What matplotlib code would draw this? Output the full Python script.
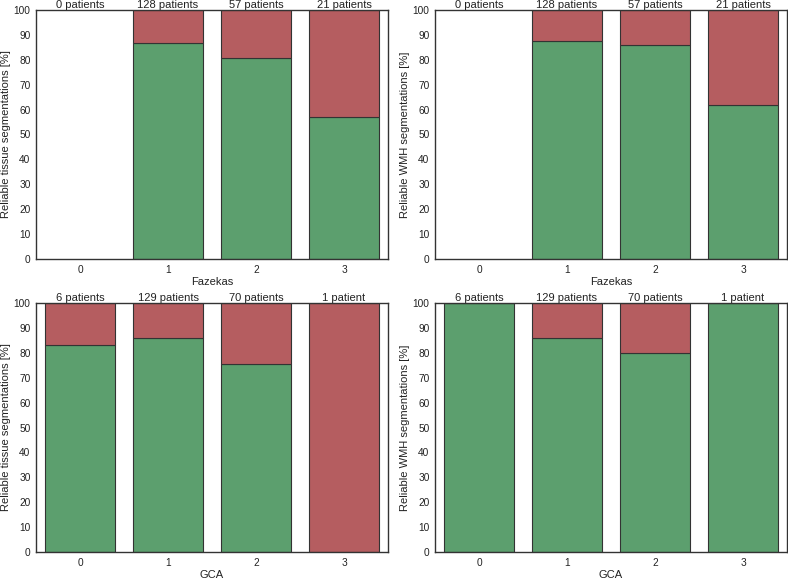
import numpy as np
import matplotlib
matplotlib.use("Agg")
import matplotlib.pyplot as plt

plt.rcParams['font.family'] = ['Liberation Sans', 'DejaVu Sans']

grades = [0, 1, 2, 3]

# Fazekas
faz_patients = [0, 128, 57, 21]
faz_tissue = [np.nan, 86.7, 80.7, 57.1]
faz_wmh = [np.nan, 87.5, 86.0, 61.9]

# GCA
gca_patients = [6, 129, 70, 1]
gca_tissue = [83.3, 86.0, 75.7, 0.0]
gca_wmh = [100.0, 86.0, 80.0, 100.0]

green = '#5c9f6e'
red = '#b55d60'


def panel(ax, reliable, patients, xlabel, ylabel):
    x = np.array(grades)
    good = np.array(reliable, dtype=float)
    ok = ~np.isnan(good)
    ax.bar(x[ok], good[ok], width=0.8, color=green, edgecolor='#333333', linewidth=0.8)
    ax.bar(x[ok], 100 - good[ok], bottom=good[ok], width=0.8, color=red,
           edgecolor='#333333', linewidth=0.8)
    for xi, n in zip(x, patients):
        txt = '{} patient'.format(n) if n == 1 else '{} patients'.format(n)
        ax.text(xi, 100.2, txt, ha='center', va='bottom', fontsize=8, color='#222222')
    ax.set_xlim(-0.5, 3.5)
    ax.set_ylim(0, 100)
    ax.set_xticks(grades)
    ax.set_yticks(range(0, 101, 10))
    ax.tick_params(length=0, labelsize=7.3, colors='#222222', pad=4)
    ax.set_xlabel(xlabel, fontsize=8, color='#222222', labelpad=2)
    ax.set_ylabel(ylabel, fontsize=8, color='#222222', labelpad=2)
    for s in ax.spines.values():
        s.set_color('#333333')
        s.set_linewidth(1.0)


fig = plt.figure(figsize=(7.88, 5.78), dpi=100)
W, H = 788.0, 578.0


def axes_px(left, top, right, bottom):
    return fig.add_axes([left / W, 1 - bottom / H, (right - left) / W, (bottom - top) / H])


ax_tl = axes_px(36, 10, 388, 259)
ax_tr = axes_px(435, 10, 787, 259)
ax_bl = axes_px(36, 303, 388, 552)
ax_br = axes_px(435, 303, 787, 552)

panel(ax_tl, faz_tissue, faz_patients, 'Fazekas', 'Reliable tissue segmentations [%]')
panel(ax_tr, faz_wmh, faz_patients, 'Fazekas', 'Reliable WMH segmentations [%]')
panel(ax_bl, gca_tissue, gca_patients, 'GCA', 'Reliable tissue segmentations [%]')
panel(ax_br, gca_wmh, gca_patients, 'GCA', 'Reliable WMH segmentations [%]')

plt.savefig('out.png', dpi=100)
plt.close()
